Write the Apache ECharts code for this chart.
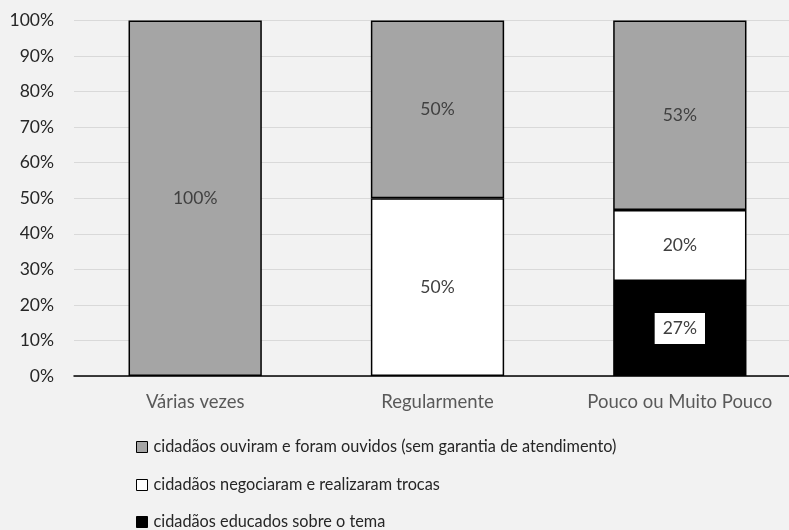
<!DOCTYPE html>
<html><head><meta charset="utf-8">
<script src="https://cdn.jsdelivr.net/npm/echarts@6/dist/echarts.min.js"></script>
<style>html,body{margin:0;padding:0;background:#f2f2f2}#c{width:789px;height:530px}</style>
</head><body><div id="c"></div>
<script>
const categories = ['Várias vezes', 'Regularmente', 'Pouco ou Muito Pouco'];
const seriesNames = ['cidadãos ouviram e foram ouvidos (sem garantia de atendimento)', 'cidadãos negociaram e realizaram trocas', 'cidadãos educados sobre o tema'];
const educados = [0, 0, 26.7];
const negociaram = [0, 50, 20];
const ouviram = [100, 50, 53.3];
const yTicks = [0, 10, 20, 30, 40, 50, 60, 70, 80, 90, 100];

const FONT = 'Lato, "Open Sans", sans-serif';
const fmt = p => Math.round(p.value) + '%';
const clean = arr => arr.map(v => (v > 0 ? v : null));
const legendTops = [437, 475, 512];
const chart = echarts.init(document.getElementById('c'));
chart.setOption({
  backgroundColor: '#f2f2f2',
  animation: false,
  textStyle: { fontFamily: FONT },
  grid: { left: 74, width: 727, top: 20.5, bottom: 154, containLabel: false, outerBoundsMode: 'none' },
  xAxis: {
    type: 'category', data: categories,
    axisLine: { lineStyle: { color: '#000', width: 1.5 } },
    axisTick: { show: false },
    axisLabel: { color: '#595959', fontSize: 18.5, fontFamily: FONT, margin: 17, interval: 0, hideOverlap: false }
  },
  yAxis: {
    type: 'value', min: yTicks[0], max: yTicks[yTicks.length - 1], interval: 10,
    axisLine: { show: false }, axisTick: { show: false },
    splitLine: { lineStyle: { color: '#d9d9d9', width: 1 } },
    axisLabel: { color: '#262626', fontSize: 17.5, fontFamily: FONT, margin: 20, formatter: v => v + '%' }
  },
  legend: seriesNames.map((n, i) => ({
    orient: 'vertical', left: 136, top: legendTops[i], padding: 0,
    itemWidth: 11, itemHeight: 11, icon: 'rect',
    itemStyle: { borderColor: '#000', borderWidth: 1 },
    textStyle: { color: '#262626', fontSize: 16.3, fontFamily: FONT, padding: [0, 0, 0, 1], lineHeight: 20 },
    data: [n]
  })),
  series: [
    { name: seriesNames[2], type: 'bar', stack: 's', barWidth: '55%', data: clean(educados),
      itemStyle: { color: '#000', borderColor: '#000', borderWidth: 1.5 },
      label: { show: true, position: 'inside', formatter: fmt, color: '#404040', fontSize: 17.5, fontFamily: FONT,
        backgroundColor: '#fff', padding: [7, 8, 6, 8] } },
    { name: seriesNames[1], type: 'bar', stack: 's', data: clean(negociaram),
      itemStyle: { color: '#fff', borderColor: '#000', borderWidth: 1.5 },
      label: { show: true, position: 'inside', formatter: fmt, color: '#404040', fontSize: 17.5, fontFamily: FONT } },
    { name: seriesNames[0], type: 'bar', stack: 's', data: clean(ouviram),
      itemStyle: { color: '#a5a5a5', borderColor: '#000', borderWidth: 1.5 },
      label: { show: true, position: 'inside', formatter: fmt, color: '#404040', fontSize: 17.5, fontFamily: FONT } }
  ]
});
</script></body></html>
